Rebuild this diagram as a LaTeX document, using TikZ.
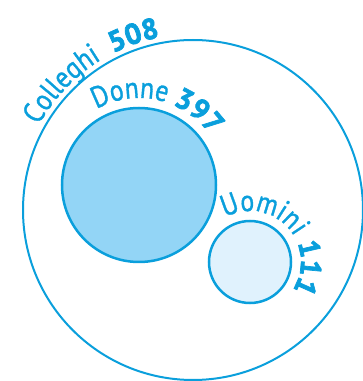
\documentclass[tikz,border=0pt]{standalone}
\usepackage{fontspec}
\setmainfont{PT Sans}
\newfontfamily\lblreg{PT Sans}[FakeStretch=0.86,FakeBold=1.1]
\newfontfamily\lblnum{PT Sans}[BoldFeatures={FakeBold=2.5}]
\usetikzlibrary{decorations.text}
\definecolor{cb}{HTML}{0A9FDC}
\definecolor{cfillA}{HTML}{93D5F6}
\definecolor{cfillB}{HTML}{E0F2FD}
\newcommand{\lblfont}{\lblreg\fontsize{30}{33}\selectfont\color{cb}}
\newcommand{\numfont}{\lblnum\bfseries\fontsize{29}{32}\selectfont\color{cb}}
\begin{document}
\begin{tikzpicture}[x=1pt,y=1pt,
  ring/.style={circle, draw=cb, inner sep=0pt},
  arclabel/.style={decorate, decoration={text along path, text align=center, text={#1}}}]
\useasboundingbox (0,0) rectangle (363,381);
\node[ring, line width=2pt, minimum size=340pt] (colleghi) at (193,171) {};
\node[ring, line width=2.5pt, fill=cfillA, minimum size=154pt] (donne) at (139,196) {};
\node[ring, line width=2.5pt, fill=cfillB, minimum size=82pt] (uomini) at (250,119) {};
\path[arclabel={|\lblfont|Colleghi{ }{ }|\numfont|508}]
  ([shift={(153:176)}]colleghi.center) arc[start angle=153, end angle=99, radius=176];
\path[arclabel={|\lblfont|Donne{ }|\numfont|397}]
  ([shift={(118:87)}]donne.center) arc[start angle=118, end angle=36, radius=87];
\path[arclabel={|\lblfont|Uomini{ }|\numfont|111}]
  ([shift={(113:51)}]uomini.center) arc[start angle=113, end angle=-27, radius=51];
\end{tikzpicture}
\end{document}
